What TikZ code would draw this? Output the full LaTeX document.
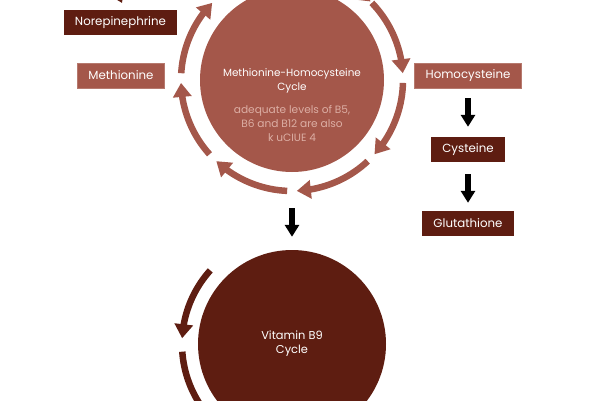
\documentclass[tikz,border=0pt]{standalone}
\usepackage{fontspec}
\setmainfont{Poppins}
\usetikzlibrary{arrows.meta,bending}
\definecolor{cyclelight}{HTML}{A4574A}
\definecolor{cycledark}{HTML}{5E1D11}
\definecolor{cyclenote}{HTML}{DCAEA4}

\begin{document}
\begin{tikzpicture}[x=1pt,y=1pt,node distance=74pt,
    cycle node/.style={circle,inner sep=0pt,text=white,align=center,font=\fontsize{10.4}{14}\selectfont},
    box node/.style={rectangle,minimum height=25pt,inner xsep=11pt,text=white,font=\fontsize{11.8}{13}\selectfont},
    light box/.style={box node,fill=cyclelight,draw=cyclelight!80!white,line width=0.6pt},
    dark box/.style={box node,fill=cycledark},
    ring arrow/.style={line width=6.5pt,-{Triangle[length=14pt,width=18pt,flex]}},
    step arrow/.style={line width=6pt,-{Triangle[length=12pt,width=14pt]}}]
    \useasboundingbox (0,0) rectangle (600,400);
    \clip (0,0) rectangle (600,400);

    \node[cycle node,fill=cyclelight,minimum size=184pt] (mhc) at (292,320) {};
    \node[cycle node] (mhctitle) at (292,319) {Methionine-Homocysteine\\Cycle};
    \node[cycle node,text=cyclenote,font=\fontsize{10.6}{14}\selectfont] (mhcnote) at (292,277) {adequate levels of B5,\\B6 and B12 are also\\k uCIUE 4};
    \node[cycle node,fill=cycledark,minimum size=188pt,font=\fontsize{11.4}{14}\selectfont] (b9) at (292,56) {Vitamin B9\\Cycle};

    \node[dark box] (norep) at (120.5,377.5) {Norepinephrine};
    \node[light box] (met) at (121,324.5) {Methionine};
    \node[light box] (hcy) at (468,324.5) {Homocysteine};
    \node[dark box] (cys) [below of=hcy] {Cysteine};
    \node[dark box] (glu) [below of=cys] {Glutathione};

    % ring round the methionine cycle
    \foreach \a in {44,-1.5,-47,-92.5,-138,-183.5,-229,-274.5}
        \draw[ring arrow,cyclelight] (mhc.center) ++(\a:111pt) arc[start angle=\a,end angle=\a-40.5,radius=111pt];

    % ring round the B9 cycle
    \foreach \a in {138,184}
        \draw[ring arrow,cycledark] (b9.center) ++(\a:110pt) arc[start angle=\a,end angle=\a+39,radius=110pt];

    \coordinate (noreptail) at (108,428);
    \coordinate (norephead) at (122,397);
    \draw[ring arrow,cycledark] (noreptail) -- (norephead);

    \path[step arrow]
        (mhc) edge[shorten <=36pt,shorten >=13pt] (b9)
        (hcy) edge[shorten <=10pt,shorten >=10pt] (cys)
        (cys) edge[shorten <=12pt,shorten >=8pt] (glu)
        ;
\end{tikzpicture}
\end{document}
